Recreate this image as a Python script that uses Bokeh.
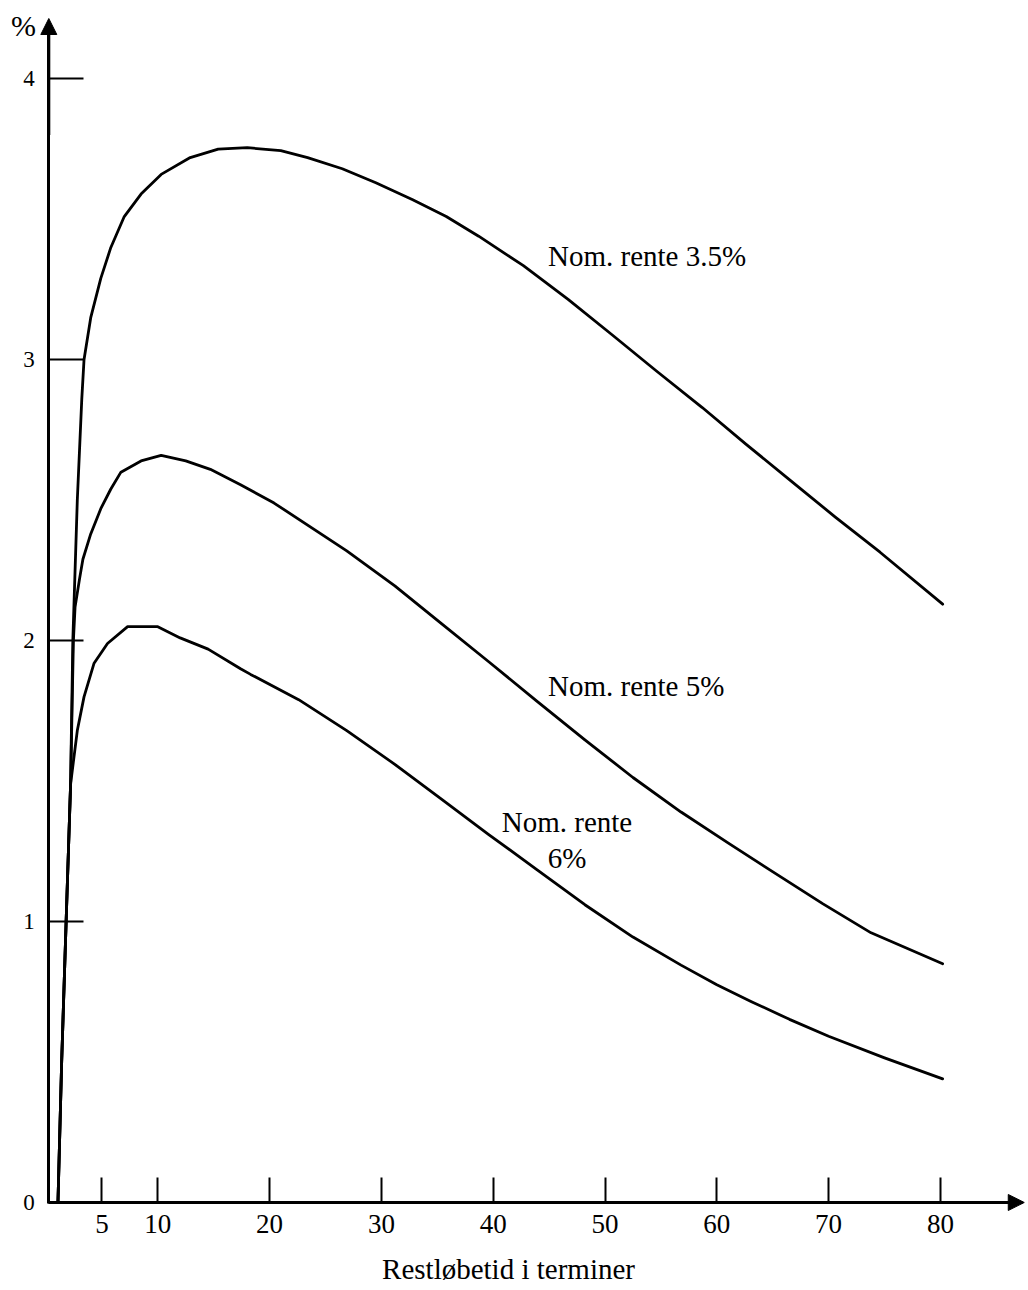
from bokeh.plotting import figure
from bokeh.models import Range1d, FixedTicker, Arrow, NormalHead, Label, ColumnDataSource
from bokeh.embed import file_html
from bokeh.resources import INLINE
from bokeh.core.properties import value

# ---- data ----
x_35 = [1.07, 1.4, 1.8, 2.2, 2.4, 2.8, 3.2, 3.4, 4.0, 4.9, 5.8, 7.0, 8.5, 10.3, 12.9, 15.4, 18.0,
        21.0, 23.4, 26.5, 29.5, 32.8, 35.8, 38.7, 42.7, 46.7, 50.6, 54.6, 58.7, 62.6, 66.6, 70.6,
        74.6, 80.2]
y_35 = [0.0, 0.5, 1.0, 1.49, 2.0, 2.5, 2.86, 3.0, 3.15, 3.29, 3.40, 3.51, 3.59, 3.66, 3.72, 3.75,
        3.755, 3.745, 3.72, 3.68, 3.63, 3.57, 3.51, 3.44, 3.335, 3.215, 3.09, 2.96, 2.83, 2.70, 2.57,
        2.44, 2.315, 2.13]

x_5 = [1.07, 1.4, 1.8, 2.2, 2.45, 2.6, 3.0, 3.3, 4.0, 4.9, 5.8, 6.7, 8.5, 10.3, 12.5, 14.7, 17.4,
       20.4, 26.9, 31.2, 35.4, 39.6, 43.9, 48.2, 52.5, 56.8, 61.0, 65.3, 69.5, 73.8, 80.2]
y_5 = [0.0, 0.5, 1.0, 1.49, 2.0, 2.12, 2.22, 2.29, 2.38, 2.47, 2.54, 2.60, 2.64, 2.66, 2.64, 2.61,
       2.555, 2.49, 2.32, 2.195, 2.06, 1.925, 1.785, 1.647, 1.513, 1.39, 1.28, 1.17, 1.063, 0.96, 0.85]

x_6 = [1.07, 1.4, 1.8, 2.2, 2.8, 3.4, 4.3, 5.5, 7.3, 10.0, 12.0, 14.5, 17.4, 18.3, 22.6, 26.9, 31.2,
       35.4, 39.6, 43.9, 48.2, 52.5, 56.8, 60.0, 63.1, 66.5, 70.0, 75.0, 80.2]
y_6 = [0.0, 0.5, 1.0, 1.49, 1.68, 1.80, 1.92, 1.99, 2.05, 2.05, 2.01, 1.97, 1.90, 1.88, 1.79, 1.68,
       1.56, 1.435, 1.31, 1.185, 1.06, 0.945, 0.845, 0.775, 0.715, 0.652, 0.592, 0.515, 0.44]

x_ticks = [5, 10, 20, 30, 40, 50, 60, 70, 80]
y_ticks = [0, 1, 2, 3, 4]

label_text = ["Nom. rente 3.5%", "Nom. rente 5%", "Nom. rente", "6%"]
label_x = [44.9, 44.9, 46.6, 46.6]
label_y = [3.37, 1.837, 1.353, 1.225]
label_align = ["left", "left", "center", "center"]

x_title = "Restløbetid i terminer"
y_title = "%"

FONT = "Liberation Serif"

p = figure(width=1026, height=1288, output_backend="svg", toolbar_location=None,
           x_range=Range1d(-4.070, 87.70), y_range=Range1d(-0.3062, 4.2791),
           min_border_left=0, min_border_right=0, min_border_top=0, min_border_bottom=0)
p.background_fill_color = "white"
p.border_fill_color = "white"
p.outline_line_color = None
p.grid.visible = False

for xs, ys in [(x_35, y_35), (x_5, y_5), (x_6, y_6)]:
    p.line(xs, ys, line_color="black", line_width=2.8, line_join="round", line_cap="round")

src = ColumnDataSource(dict(x=label_x, y=label_y, t=label_text, a=label_align))
p.text(x="x", y="y", text="t", source=src, text_align="a", text_baseline="middle",
       text_font=value(FONT), text_font_size="29px", text_color="black")

# axes drawn at fixed positions inside the frame
p.xaxis.fixed_location = 0
p.yaxis.fixed_location = 0.25
p.xaxis.bounds = (0.25, 87.3)
p.yaxis.bounds = (-0.004, 4.2)
p.xaxis.ticker = FixedTicker(ticks=x_ticks)
p.yaxis.ticker = FixedTicker(ticks=y_ticks)
for ax in (p.xaxis, p.yaxis):
    ax.axis_line_color = "black"
    ax.axis_line_width = 3
    ax.major_tick_line_color = "black"
    ax.major_tick_line_width = 2
    ax.major_tick_out = 0
    ax.minor_tick_line_color = None
    ax.major_label_text_font = FONT
    ax.major_label_text_color = "black"
    ax.major_label_text_font_style = "normal"
p.xaxis.major_tick_in = 25
p.yaxis.major_tick_in = 35
p.xaxis.major_label_text_font_size = "27px"
p.yaxis.major_label_text_font_size = "23px"
p.xaxis.major_label_standoff = 13
p.yaxis.major_label_standoff = 14

# axis arrows
p.add_layout(Arrow(end=NormalHead(size=16, fill_color="black", line_color="black"),
                   x_start=0.25, y_start=3.8, x_end=0.25, y_end=4.215,
                   line_color="black", line_width=3))
p.add_layout(Arrow(end=NormalHead(size=16, fill_color="black", line_color="black"),
                   x_start=80.0, y_start=0.0, x_end=87.5, y_end=0.0,
                   line_color="black", line_width=3))

p.add_layout(Label(x=41.37, y=-0.235, text=x_title, text_align="center",
                   text_baseline="middle", text_font=FONT, text_font_size="29px",
                   text_color="black"))
p.add_layout(Label(x=-2.01, y=4.19, text=y_title, text_align="center",
                   text_baseline="middle", text_font=FONT, text_font_size="30px",
                   text_color="black"))

open("out.html", "w").write(file_html(p, INLINE))
